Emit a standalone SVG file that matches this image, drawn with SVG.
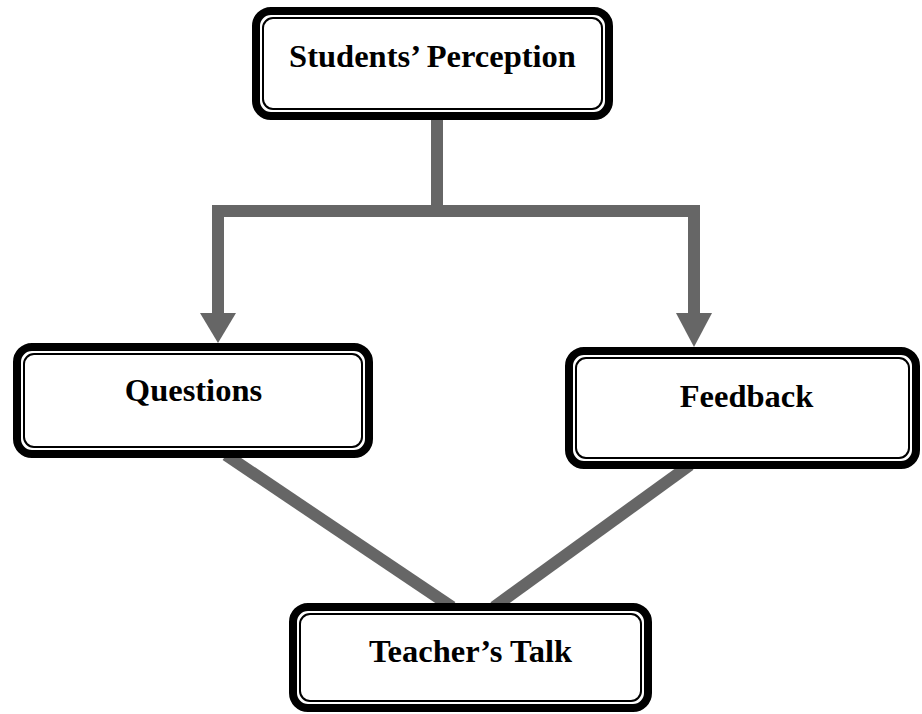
<svg xmlns="http://www.w3.org/2000/svg" width="922" height="714" viewBox="0 0 922 714">
<style>
.outer{fill:#fff;stroke:#000;stroke-width:8}
.inner{fill:none;stroke:#000;stroke-width:2}
.lbl{font-family:"Liberation Serif","Times New Roman",serif;font-weight:bold;font-size:32.5px;fill:#000;text-anchor:middle}
.conn{fill:none;stroke:#666;stroke-width:12}
.head{fill:#666;stroke:none}
</style>
<rect width="922" height="714" fill="#fff"/>
<g id="connectors">
<path class="conn" d="M437 118 V211"/>
<path class="conn" d="M218 313 V211 H694 V313" stroke-linejoin="miter"/>
<polygon class="head" points="200,313 236,313 218,343"/>
<polygon class="head" points="676,313 712,313 694,347"/>
<line class="conn" x1="226" y1="455" x2="452" y2="607"/>
<line class="conn" x1="690" y1="465" x2="494" y2="607"/>
</g>
<g id="node-students">
<rect class="outer" x="256" y="11" width="353" height="105" rx="15"/>
<rect class="inner" x="263" y="18" width="339" height="91" rx="10"/>
<text class="lbl" x="432.5" y="67">Students’ Perception</text>
</g>
<g id="node-questions">
<rect class="outer" x="17" y="347" width="352" height="107" rx="15"/>
<rect class="inner" x="24" y="354" width="338" height="93" rx="10"/>
<text class="lbl" x="193.5" y="401">Questions</text>
</g>
<g id="node-feedback">
<rect class="outer" x="569" y="351" width="347" height="114" rx="15"/>
<rect class="inner" x="576" y="358" width="333" height="100" rx="10"/>
<text class="lbl" x="746.5" y="407">Feedback</text>
</g>
<g id="node-teacher">
<rect class="outer" x="293" y="607" width="355" height="101" rx="15"/>
<rect class="inner" x="300" y="614" width="341" height="87" rx="10"/>
<text class="lbl" x="470.5" y="662">Teacher’s Talk</text>
</g>
</svg>
